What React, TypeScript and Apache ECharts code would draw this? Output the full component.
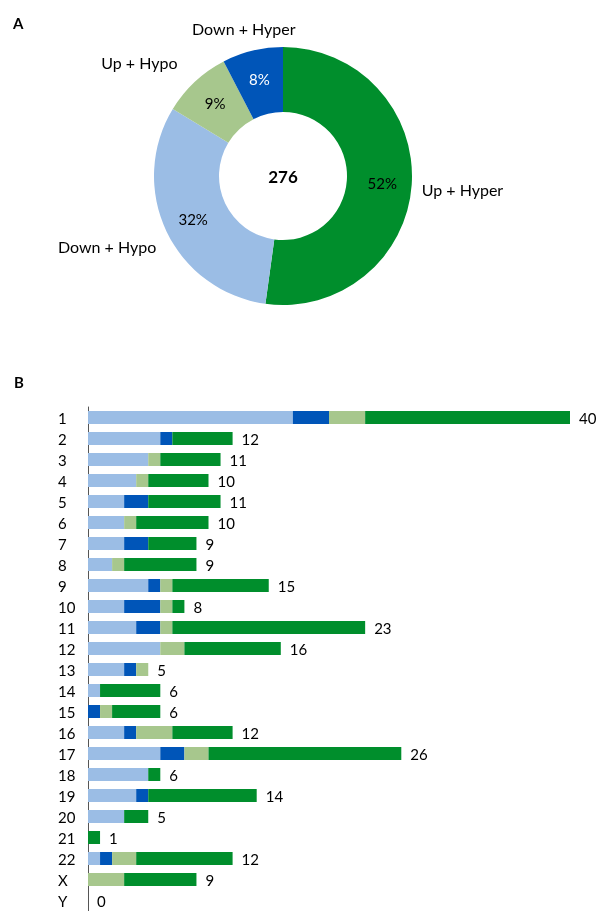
import React, { useEffect, useRef } from "react";
import * as echarts from "echarts";

const categories = ["1","2","3","4","5","6","7","8","9","10","11","12","13","14","15","16","17","18","19","20","21","22","X","Y"];
const downHypo  = [17,6,5,4,3,3,3,2,5,3,4,6,3,1,0,3,6,5,4,3,0,1,0,0];
const downHyper = [3,1,0,0,2,0,2,0,1,3,2,0,1,0,1,1,2,0,1,0,0,1,0,0];
const upHypo    = [3,0,1,1,0,1,0,1,1,1,1,2,1,0,1,3,2,0,0,0,0,2,3,0];
const upHyper   = [17,5,5,5,6,6,4,6,8,1,16,8,0,5,4,5,16,1,9,2,1,8,6,0];

const groupNames = ["Up + Hyper", "Down + Hypo", "Up + Hypo", "Down + Hyper"];

const C_LB = "#9BBDE5";
const C_DB = "#0055B8";
const C_LG = "#A7C78D";
const C_G = "#008E2C";

const FONT = "Lato, 'Open Sans', sans-serif";

const sum = (a: number[]) => a.reduce((s, v) => s + v, 0);

export default function App() {
  const ref = useRef<HTMLDivElement>(null);
  useEffect(() => {
    if (!ref.current) return;
    const chart = echarts.init(ref.current, null, { renderer: "svg" });

    const totals = categories.map((_, i) => downHypo[i] + downHyper[i] + upHypo[i] + upHyper[i]);
    const pieValues = [sum(upHyper), sum(downHypo), sum(upHypo), sum(downHyper)];
    const grand = sum(pieValues);
    const pieColors = [C_G, C_LB, C_LG, C_DB];
    const pieLabelColors = ["#000", "#000", "#000", "#fff"];
    const pieData = groupNames.map((n, i) => ({
      name: n,
      value: pieValues[i],
      itemStyle: { color: pieColors[i] },
      label: { color: pieLabelColors[i] },
    }));

    const outerNudge: number[][] = [[-3, 4], [2, 12], [-7, -13], [50, -14]];

    const barSeries = (name: string, data: number[], color: string) => ({
      type: "bar",
      name,
      stack: "s",
      data,
      barWidth: 13,
      itemStyle: { color },
      silent: true,
    });

    chart.setOption({
      animation: false,
      textStyle: { fontFamily: FONT },
      graphic: [
        { type: "text", left: 13, top: 15, style: { text: "A", font: `bold 15px ${FONT}`, fill: "#000" } },
        { type: "text", left: 14, top: 374, style: { text: "B", font: `bold 15px ${FONT}`, fill: "#000" } },
        { type: "text", x: 283, y: 176, style: { text: String(grand), font: `bold 17px ${FONT}`, fill: "#000", align: "center", verticalAlign: "middle" } },
      ],
      grid: { left: 88, width: 482, top: 407, height: 508 },
      xAxis: { type: "value", min: 0, max: Math.max(...totals), show: false },
      yAxis: {
        type: "category",
        data: categories,
        inverse: true,
        axisLine: { show: true, lineStyle: { color: "#555", width: 1 } },
        axisTick: { show: false },
        axisLabel: { align: "left", margin: 30, fontSize: 15, color: "#000", fontFamily: FONT },
      },
      series: [
        {
          type: "pie",
          center: [283, 176],
          radius: [64, 129],
          startAngle: 90,
          clockwise: true,
          avoidLabelOverlap: false,
          silent: true,
          data: pieData,
          label: {
            position: "inside",
            fontSize: 15,
            fontFamily: FONT,
            formatter: (p: any) => Math.round((p.value / grand) * 100) + "%",
          },
          labelLine: { show: false },
        },
        {
          type: "pie",
          center: [283, 176],
          radius: [64, 129],
          startAngle: 90,
          clockwise: true,
          avoidLabelOverlap: false,
          silent: true,
          data: pieData.map((d) => ({ name: d.name, value: d.value, itemStyle: { color: "rgba(0,0,0,0)" } })),
          label: { position: "outside", fontSize: 16, fontFamily: FONT, color: "#000", formatter: "{b}" },
          labelLine: { show: false, length: 8, length2: 0 },
          labelLayout: (p: any) => {
            const n = outerNudge[p.dataIndex];
            return { dx: n[0], dy: n[1] };
          },
        },
        barSeries("Down + Hypo", downHypo, C_LB),
        barSeries("Down + Hyper", downHyper, C_DB),
        barSeries("Up + Hypo", upHypo, C_LG),
        barSeries("Up + Hyper", upHyper, C_G),
        {
          type: "bar",
          name: "Total",
          stack: "s",
          data: totals.map(() => 0),
          barWidth: 13,
          silent: true,
          itemStyle: { color: "rgba(0,0,0,0)" },
          label: {
            show: true,
            position: "right",
            distance: 9,
            fontSize: 15,
            fontFamily: FONT,
            color: "#000",
            formatter: (p: any) => String(totals[p.dataIndex]),
          },
        },
      ],
    } as any);
    return () => chart.dispose();
  }, []);
  return <div ref={ref} style={{ position: "fixed", left: 0, top: 0, width: 597, height: 911 }} />;
}
